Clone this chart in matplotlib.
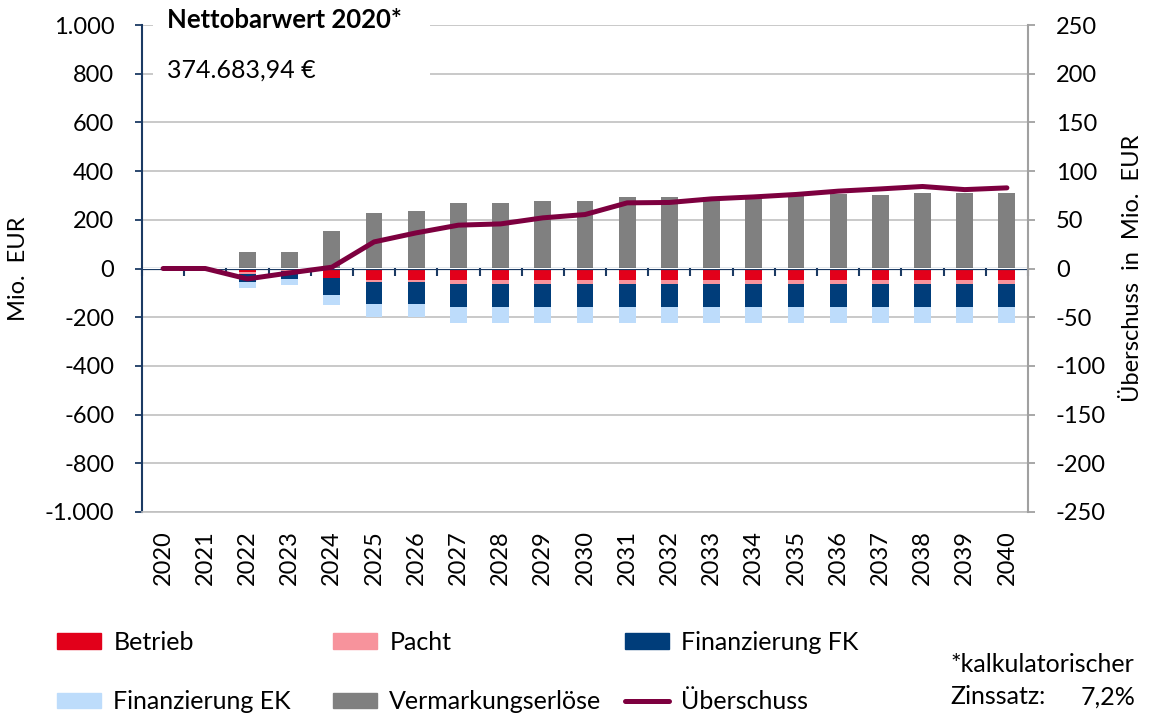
import matplotlib
matplotlib.use("Agg")
import matplotlib.pyplot as plt
from matplotlib.patches import Patch, Rectangle
from matplotlib.lines import Line2D
from matplotlib.ticker import FuncFormatter

plt.rcParams['font.family'] = ['Lato', 'DejaVu Sans']
plt.rcParams['axes.unicode_minus'] = False

years = list(range(2020, 2041))
betrieb = [0, 0, -14, -8, -41, -48, -48, -48, -48, -48, -48,
           -48, -48, -48, -48, -48, -48, -48, -48, -48, -48]
pacht = [0, 0, -7, -4, 0, -8, -8, -16, -16, -16, -16,
         -16, -16, -16, -16, -16, -16, -16, -16, -16, -16]
fin_fk = [0, 0, -36, -31, -68, -89, -89, -94, -94, -94, -94,
          -94, -94, -94, -94, -94, -94, -94, -94, -94, -94]
fin_ek = [0, 0, -23, -25, -42, -55, -55, -67, -67, -67, -67,
          -67, -67, -67, -67, -67, -67, -67, -67, -67, -67]
erloese = [0, 0, 67, 67, 156, 228, 237, 269, 269, 278, 278,
           293, 293, 292, 295, 298, 304, 302, 310, 310, 310]
ueberschuss = [0, 0, -10.7, -4.5, 1.3, 27.3, 36.6, 44.5, 45.8, 52.0, 55.4,
               67.4, 67.8, 71.5, 73.5, 76.0, 79.4, 81.7, 84.2, 81.0, 82.8]

c_betrieb = '#E2001A'
c_pacht = '#F7939C'
c_fk = '#003D7A'
c_ek = '#BDDCFB'
c_erl = '#808080'
c_line = '#7D003F'
c_navy = '#1B3A63'
c_grid = '#C0C0C0'
c_gray = '#A0A0A0'
fs = 17
fs_leg = 18

fig = plt.figure(figsize=(11.51, 7.17), dpi=100)
ax = fig.add_axes([142 / 1151, 1 - 512 / 717, 886 / 1151, 487 / 717])
x = list(range(len(years)))
w = 0.4

# stacked bars
ax.bar(x, erloese, w, color=c_erl, zorder=2)
bottom = [0] * len(x)
for vals, col in [(betrieb, c_betrieb), (pacht, c_pacht), (fin_fk, c_fk), (fin_ek, c_ek)]:
    ax.bar(x, vals, w, bottom=bottom, color=col, zorder=2)
    bottom = [b + v for b, v in zip(bottom, vals)]

ax.set_xlim(-0.5, len(x) - 0.5)
ax.set_ylim(-1000, 1000)
ax.set_yticks(range(-1000, 1001, 200))
ax.yaxis.set_major_formatter(FuncFormatter(lambda v, p: f"{int(v):,}".replace(',', '.')))
ax.grid(axis='y', color=c_grid, lw=1.2, zorder=0)
ax.set_axisbelow(True)
ax.set_xticks(x)
ax.set_xticklabels([str(y) for y in years], rotation=90, fontsize=fs)
ax.tick_params(axis='x', length=0, pad=13)
ax.tick_params(axis='y', labelsize=fs, colors=c_navy, labelcolor='black',
               length=5, width=1.3, pad=15)
for s in ['top', 'right']:
    ax.spines[s].set_visible(False)
ax.spines['left'].set_color(c_navy)
ax.spines['left'].set_linewidth(1.5)
ax.spines['bottom'].set_color(c_grid)
ax.spines['bottom'].set_linewidth(1.2)
ax.set_ylabel('Mio.  EUR', fontsize=fs)
ax.yaxis.set_label_coords(-0.127, 0.5)

# category axis at zero
ax.axhline(0, color=c_navy, lw=1.6, zorder=3)
sec = ax.secondary_xaxis(0.5)
sec.set_zorder(4)
sec.set_xticks([i - 0.5 for i in range(len(x) + 1)])
sec.set_xticklabels([''] * (len(x) + 1))
sec.tick_params(axis='x', direction='in', length=6, width=1.5, colors=c_navy)
sec.spines['bottom'].set_visible(False)
sec.spines['top'].set_visible(False)

# right axis with Überschuss line
ax2 = ax.twinx()
ax2.plot(x, ueberschuss, color=c_line, lw=3.6, solid_capstyle='round', zorder=5)
ax2.set_ylim(-250, 250)
ax2.set_yticks(range(-250, 251, 50))
ax2.tick_params(axis='y', labelsize=fs, colors=c_gray, labelcolor='black',
                length=5, width=1.3, pad=15)
for s in ['top', 'left', 'bottom']:
    ax2.spines[s].set_visible(False)
ax2.spines['right'].set_color(c_gray)
ax2.spines['right'].set_linewidth(1.5)
ax2.set_ylabel('Überschuss  in  Mio.  EUR', fontsize=fs)
ax2.yaxis.set_label_coords(1.106, 0.5)

# Nettobarwert box
ax.add_patch(Rectangle((0.012, 0.87), 0.313, 0.16, transform=ax.transAxes,
                       facecolor='white', edgecolor='none', zorder=1, clip_on=False))
ax.text(0.028, 1.01, 'Nettobarwert 2020*', transform=ax.transAxes, fontsize=18.5,
        fontweight='bold', va='center', ha='left', zorder=3)
ax.text(0.028, 0.9076, '374.683,94 €', transform=ax.transAxes, fontsize=18,
        va='center', ha='left', zorder=3)

# legend, three columns
cols = [
    ([Patch(color=c_betrieb), Patch(color=c_ek)], ['Betrieb', 'Finanzierung EK'], 57),
    ([Patch(color=c_pacht), Patch(color=c_erl)], ['Pacht', 'Vermarkungserlöse'], 333),
    ([Patch(color=c_fk), Line2D([], [], color=c_line, lw=3.6, solid_capstyle='round')],
     ['Finanzierung FK', 'Überschuss'], 625),
]
for hs, ls, px in cols:
    fig.legend(hs, ls, loc='upper left', bbox_to_anchor=(px / 1151, 1 - 631 / 717),
               frameon=False, fontsize=fs_leg, handlelength=1.75, handleheight=0.6,
               handletextpad=0.5, labelspacing=1.45, borderpad=0, borderaxespad=0)

fig.text(950 / 1151, 1 - 664 / 717, '*kalkulatorischer', fontsize=fs_leg, va='center', ha='left')
fig.text(950 / 1151, 1 - 697 / 717, 'Zinssatz:', fontsize=fs_leg, va='center', ha='left')
fig.text(1135 / 1151, 1 - 697 / 717, '7,2%', fontsize=fs_leg, va='center', ha='right')

fig.savefig('out.png', dpi=100)
